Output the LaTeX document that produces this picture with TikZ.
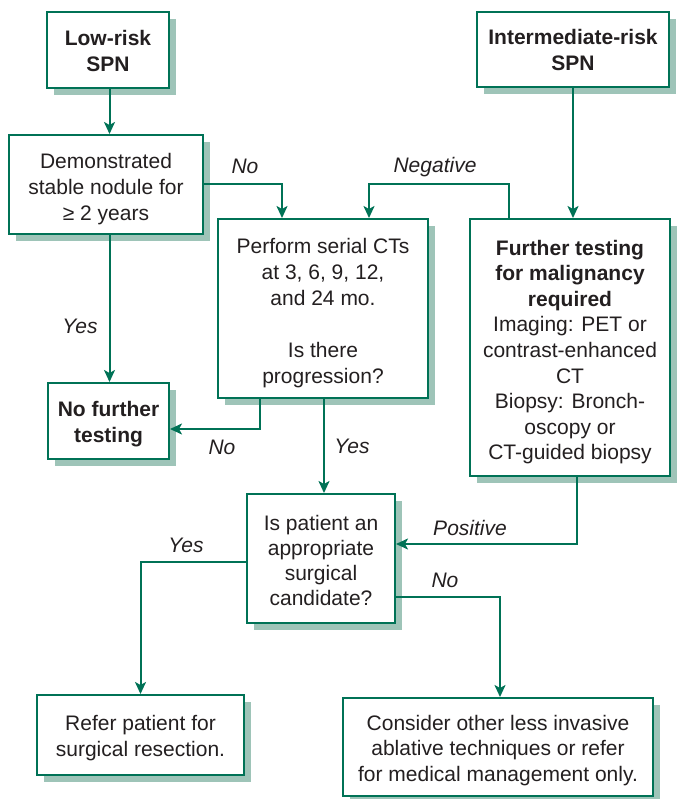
\documentclass[tikz,border=0pt]{standalone}
\usepackage{fontspec}
\setmainfont{Liberation Sans}
\usetikzlibrary{shadows,arrows.meta}
\definecolor{gr}{RGB}{0,114,86}
\definecolor{shd}{RGB}{158,196,184}
\definecolor{txt}{RGB}{35,31,32}
\tikzset{
  box/.style={draw=gr, line width=2pt, fill=white, inner sep=0pt,
    drop shadow={shadow xshift=7pt, shadow yshift=-7pt, fill=shd, opacity=1}},
  btxt/.style={align=center, text=txt, inner sep=0pt, font=\fontsize{21}{26}\selectfont},
  conn/.style={draw=gr, line width=2pt, -{Stealth[length=12pt,width=11pt,inset=3pt]}},
  lab/.style={font=\itshape\fontsize{21}{26}\selectfont, text=txt, inner sep=0pt}
}
\begin{document}
\begin{tikzpicture}[x=1pt,y=-1pt]
\useasboundingbox (0,0) rectangle (681,799);
\node[box, minimum width=122, minimum height=76] (low) at (108,50) {};
\node[box, minimum width=192, minimum height=75] (inter) at (573,49.5) {};
\node[box, minimum width=194, minimum height=99] (demo) at (106,184.5) {};
\node[box, minimum width=210, minimum height=179] (perform) at (323,308.5) {};
\node[box, minimum width=200, minimum height=257] (further) at (570,347.5) {};
\node[box, minimum width=121, minimum height=76] (nof) at (108.5,421) {};
\node[box, minimum width=148, minimum height=129] (patient) at (321,558.5) {};
\node[box, minimum width=207, minimum height=80] (refer) at (140.5,735) {};
\node[box, minimum width=310, minimum height=98] (consider) at (498,747) {};

\node[btxt] (lowt) at ([yshift=-0.5pt]low.center) {\textbf{Low-risk}\\\textbf{SPN}};
\node[btxt] (intert) at ([yshift=-0.5pt]inter.center) {\textbf{Intermediate-risk}\\\textbf{SPN}};
\node[btxt] (demot) at ([yshift=-5pt]demo.center) {Demonstrated\\stable nodule for\\≥ 2 years};
\node[btxt] (performt) at ([yshift=-5pt]perform.center) {Perform serial CTs\\at 3, 6, 9, 12,\\and 24 mo.\\[26pt]Is there\\progression?};
\node[btxt, font=\fontsize{21}{25.6}\selectfont] (furthert) at ([yshift=-4.5pt]further.center) {\textbf{Further testing}\\\textbf{for malignancy}\\\textbf{required}\\Imaging: PET or\\contrast-enhanced\\CT\\Biopsy: Bronch-\\oscopy or\\CT-guided biopsy};
\node[btxt] (noft) at ([yshift=-3.5pt]nof.center) {\textbf{No further}\\\textbf{testing}};
\node[btxt, font=\fontsize{21}{25}\selectfont] (patientt) at ([yshift=-2pt]patient.center) {Is patient an\\appropriate\\surgical\\candidate?};
\node[btxt] (refert) at ([yshift=-3.5pt]refer.center) {Refer patient for\\surgical resection.};
\node[btxt, font=\fontsize{21}{25.5}\selectfont] (considert) at ([yshift=-3.5pt]consider.center) {Consider other less invasive\\ablative techniques or refer\\for medical management only.};

\draw[conn] ([xshift=1.5pt]low.south) -- ([xshift=1.5pt]low.south |- demo.north);
\draw[conn] (inter.south) -- (inter.south |- further.north);
\draw[conn] (demo.east) -| ([xshift=-41pt]perform.north);
\draw[conn] ([xshift=-61pt]further.north) -- ++(0,-34) -| ([xshift=46pt]perform.north);
\draw[conn] ([xshift=3.5pt]demo.south) -- ([xshift=3.5pt]demo.south |- nof.north);
\draw[conn] ([xshift=-63pt]perform.south) |- ([yshift=-8pt]nof.east);
\draw[conn] ([xshift=1pt]perform.south) -- ([xshift=1pt]perform.south |- patient.north);
\draw[conn] ([xshift=7pt]further.south) |- ([yshift=14.5pt]patient.east);
\draw[conn] ([yshift=-3.5pt]patient.west) -| (refer.north);
\draw[conn] ([yshift=-38.5pt]patient.east) -| ([xshift=2pt]consider.north);

\node[lab] (l1) at (245,166) {No};
\node[lab] (l2) at (435,167) {Negative};
\node[lab] (l3) at (80,326) {Yes};
\node[lab] (l4) at (222,447) {No};
\node[lab] (l5) at (352,446) {Yes};
\node[lab] (l6) at (470,528) {Positive};
\node[lab] (l7) at (186,545) {Yes};
\node[lab] (l8) at (445,580) {No};
\end{tikzpicture}
\end{document}
